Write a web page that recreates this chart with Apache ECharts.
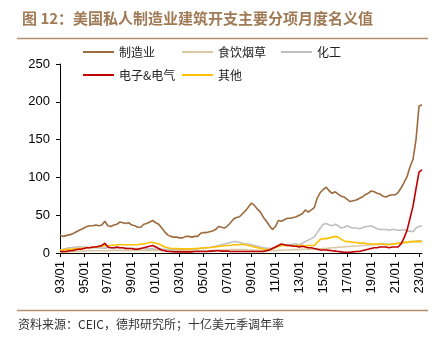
<!DOCTYPE html>
<html>
<head>
<meta charset="utf-8">
<script src="https://cdn.jsdelivr.net/npm/echarts@6/dist/echarts.min.js"></script>
<style>
  html, body { margin: 0; padding: 0; background: #fff; }
  #chart { width: 443px; height: 348px; }
</style>
</head>
<body>
<div id="chart"></div>
<script>
// Quarterly readings (Jan/Apr/Jul/Oct), 1993/01 – 2023/04, billions USD SAAR
const manufacturing = [
  24, 22, 23, 24,   25, 27, 29, 31,   33, 35, 36, 36,   37, 36, 37, 42,
  36, 35, 37, 38,   41, 40, 39, 40,   37, 36, 34, 34,   38, 39, 41, 43,
  40, 38, 33, 28,   24, 22, 21, 21,   20, 20, 22, 22,   21, 22, 22, 26,
  27, 27, 28, 29,   31, 35, 34, 33,   36, 40, 45, 47,   48, 52, 56, 61,
  66, 63, 58, 54,   47, 42, 36, 31,   35, 43, 42, 44,   46, 46, 47, 48,
  50, 52, 57, 54,   57, 60, 73, 80,   84, 87, 82, 79,   81, 78, 75, 74,
  71, 68, 69, 70,   72, 74, 77, 79,   82, 81, 79, 78,   75, 74, 76, 77,
  77, 80, 86, 93,   101, 114, 124, 150,   194, 196
];
const foodBeverage = [
  1, 1, 1.5, 1.5,   2, 2, 2, 2.5,   2.5, 3, 3, 3,   3, 3, 3, 3,
  3, 3.5, 3.5, 3.5,   3.5, 3.5, 3.5, 3.5,   3.5, 3.5, 3.5, 3.5,   3.5, 3.5, 3.5, 3.5,
  3.5, 3.5, 3, 3,   3, 3, 3, 3,   3, 3, 3, 3,   3, 3, 3, 3,
  3, 3, 3, 3.5,   3.5, 4, 4, 4,   4, 4.5, 4.5, 4.5,   4.5, 4.5, 4.5, 4,
  4, 3.5, 3.5, 3,   3, 3, 3, 3,   3, 3.5, 3.5, 4,   4, 4, 4.5, 4.5,
  4.5, 5, 5, 5,   5, 5, 5.5, 5.5,   6, 6, 6.5, 7,   7, 7.5, 8, 8,
  8.5, 8.5, 9, 9,   9.5, 10, 10, 10.5,   11, 11, 11, 11.5,   11.5, 12, 12, 12,
  12.5, 13, 13, 14,   14, 15, 15, 16,   16, 16
];
const chemical = [
  4, 5, 6, 7,   7, 8, 8, 8,   8, 8, 7, 7,   7, 7, 6.5, 6.5,
  7, 7, 6.5, 6.5,   7, 7, 6.5, 6,   6, 6, 6, 6,   6, 5.5, 5.5, 5.5,
  5, 5, 5, 5,   4.5, 4.5, 4.5, 4.5,   4.5, 4.5, 5, 5,   5, 5, 5.5, 6,
  6, 7, 7.5, 8,   9, 10, 11, 12,   13, 14, 15, 15,   14, 13, 12, 12,
  11, 10, 9, 8,   7, 6.5, 6, 6.5,   8, 9, 10, 11,   11, 11, 12, 12,
  11, 13, 15, 17,   19, 21, 27, 33,   38, 39, 37, 36,   38, 36, 33, 34,
  36, 34, 33, 33,   32, 33, 35, 35,   36, 34, 32, 31,   31, 31, 30, 31,
  31, 30, 30, 31,   29, 29, 28, 33,   35, 36
];
const electrical = [
  2, 2, 2, 3,   3, 4, 5, 5,   6, 7, 7, 8,   8, 9, 10, 13,
  8, 7, 7, 8,   7, 7, 6, 6,   6, 5, 5, 6,   7, 8, 9, 10,
  8, 6, 4, 3,   2, 2, 1.5, 1.5,   1.5, 1.5, 1.5, 1.5,   1.5, 2, 2, 2,
  2, 2, 2.5, 2.5,   3, 3, 2.5, 2.5,   2.5, 2, 2, 2,   2, 2, 2, 2,
  2, 2, 2, 2,   2, 3, 4, 6,   8, 10, 12, 11,   10, 10, 9, 9,
  8, 9, 8, 7,   7, 6, 5, 4,   4, 4, 3.5, 3,   2.5, 2, 1.5, 1,
  1, 1, 1.5, 2,   2, 3, 4, 5,   6, 7, 7, 8,   8, 8, 7, 8,
  8, 8, 12, 20,   30, 46, 62, 85,   107, 110
];
const others = [
  4, 4, 4.5, 5,   5, 5.5, 6, 6,   6.5, 7, 7, 8,   8, 8.5, 9, 10,
  10, 10, 10.5, 11,   11, 11, 11, 11,   11, 11, 11, 12,   12, 13, 14, 14,
  13, 12, 10, 8,   7, 6, 6, 6,   5.5, 5.5, 5.5, 5.5,   5.5, 6, 6, 6.5,
  7, 7, 7, 8,   8, 8.5, 9, 9.5,   10, 10, 11, 11,   11, 11.5, 11, 10,
  9, 8, 7, 6,   5, 4.5, 4.5, 5.5,   7, 9, 10, 10,   10, 9.5, 9.5, 10,
  10, 10, 9.5, 10,   10, 10, 14, 18,   19, 19, 20, 21,   22, 21, 18, 16,
  15, 15, 14, 14,   13, 13, 13, 12,   12, 12, 12, 12,   12, 11, 11, 12,
  12, 13, 13, 14,   14, 15, 15, 15,   15, 15
];
const seriesNames = ['制造业', '食饮烟草', '化工', '电子&电气', '其他'];
const seriesColors = ['#9C6B3E', '#D9C8A2', '#BFBFBF', '#C00000', '#FFC000'];
const yTicks = { min: 0, max: 250, interval: 50 };

// Monthly category axis from 1993/01 to 2023/04
const months = [];
for (let y = 1993; y <= 2023; y++) {
  for (let m = 1; m <= 12; m++) {
    if (y === 2023 && m > 4) break;
    months.push(y + '/' + String(m).padStart(2, '0'));
  }
}

const toPoints = arr => arr.map((v, q) => [q * 3, v]);
const allValues = [manufacturing, foodBeverage, chemical, electrical, others];

const chart = echarts.init(document.getElementById('chart'), null, { renderer: 'canvas' });

const legendSlots = [
  { left: 83, top: 46 }, { left: 182, top: 46 }, { left: 281, top: 46 },
  { left: 83, top: 69 }, { left: 182, top: 69 }
];

const option = {
  animation: false,
  backgroundColor: '#fff',
  title: {
    text: '图 12：美国私人制造业建筑开支主要分项月度名义值',
    left: 17, top: 6,
    textStyle: { fontFamily: 'Noto Sans CJK SC', fontSize: 15, fontWeight: 'bold', color: '#A07A55' }
  },
  legend: seriesNames.map((name, i) => ({
    data: [name],
    left: legendSlots[i].left, top: legendSlots[i].top,
    icon: 'rect', itemWidth: 31, itemHeight: 2, itemGap: 0,
    padding: 0,
    selectedMode: false,
    textStyle: { fontFamily: 'Noto Sans CJK SC', fontSize: 12, color: '#222', padding: [0, 0, 0, 0] }
  })),
  grid: { left: 60, right: 21, top: 64, bottom: 95, containLabel: false },
  xAxis: {
    type: 'category',
    data: months,
    boundaryGap: false,
    axisLine: { lineStyle: { color: '#000', width: 1 } },
    axisTick: { show: true, interval: 23, length: 4, lineStyle: { color: '#000' } },
    axisLabel: {
      interval: 23, rotate: 90, margin: 8,
      fontFamily: 'Liberation Sans', fontSize: 13, color: '#000',
      formatter: v => v.slice(2)
    },
    splitLine: { show: false }
  },
  yAxis: {
    type: 'value',
    min: yTicks.min, max: yTicks.max, interval: yTicks.interval,
    axisLine: { show: true, lineStyle: { color: '#000', width: 1 } },
    axisTick: { show: true, length: 4, lineStyle: { color: '#000' } },
    axisLabel: { margin: 10, fontFamily: 'Liberation Sans', fontSize: 13, color: '#000' },
    splitLine: { show: false }
  },
  series: seriesNames.map((name, i) => ({
    name,
    type: 'line',
    data: toPoints(allValues[i]),
    showSymbol: false,
    symbol: 'none',
    z: [5, 2, 3, 4, 3][i],
    lineStyle: { color: seriesColors[i], width: 1.6 },
    itemStyle: { color: seriesColors[i] }
  })),
  graphic: [
    { type: 'line', shape: { x1: 17, y1: 38.5, x2: 428, y2: 38.5 }, style: { stroke: '#B38F6B', lineWidth: 1.5 } },
    { type: 'line', shape: { x1: 17, y1: 310.5, x2: 428, y2: 310.5 }, style: { stroke: '#B38F6B', lineWidth: 1.5 } },
    {
      type: 'text', left: 18, top: 318,
      style: { text: '资料来源：CEIC，德邦研究所；十亿美元季调年率', fontFamily: 'Noto Sans CJK SC', fontSize: 12, fill: '#333' }
    }
  ]
};

chart.setOption(option);
</script>
</body>
</html>
